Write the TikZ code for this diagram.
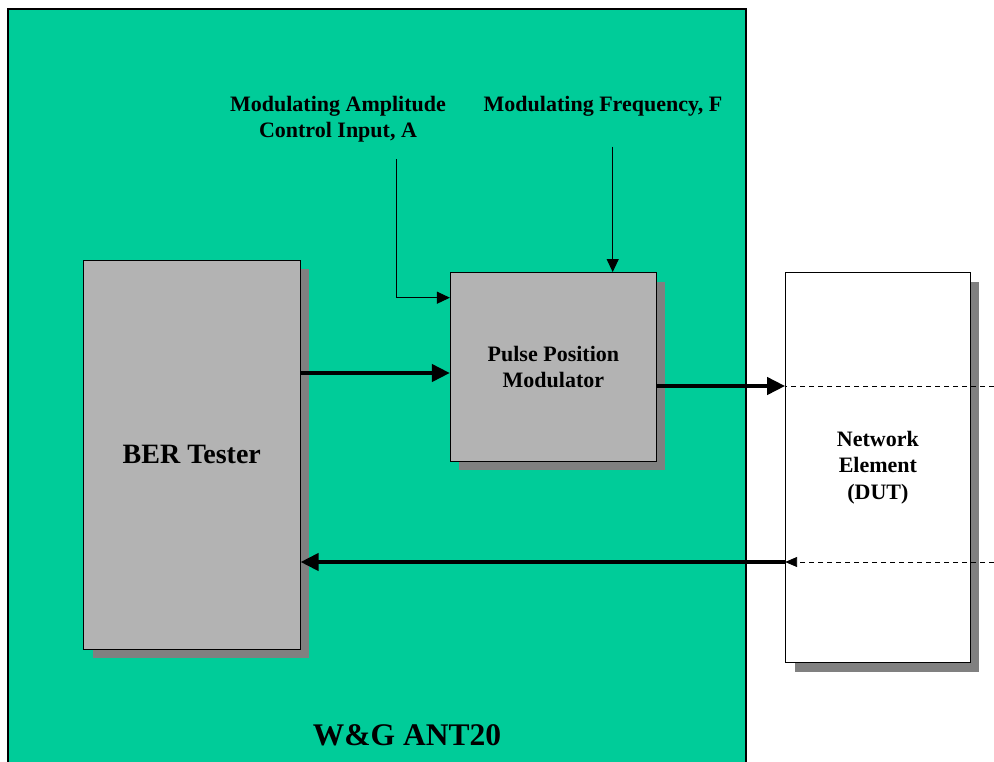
\documentclass[tikz,border=0pt]{standalone}
\usepackage{fontspec}
\setmainfont{Liberation Serif}
\usetikzlibrary{arrows.meta,shadows}
\definecolor{antgreen}{RGB}{0,204,153}
\definecolor{boxgray}{RGB}{179,179,179}
\definecolor{shadowgray}{RGB}{128,128,128}
\tikzset{
  shadowed/.style={drop shadow={shadow xshift=9pt,shadow yshift=-9pt,fill=shadowgray,opacity=1}},
  graybox/.style={draw=black,line width=1pt,fill=boxgray,shadowed,inner sep=0pt,align=center},
  whitebox/.style={draw=black,line width=1pt,fill=white,shadowed,inner sep=0pt,align=center},
  lbl/.style={inner sep=0pt,align=center,font=\fontsize{22}{25.6}\selectfont\bfseries},
  thickarrow/.style={line width=4pt,-{Triangle[length=18pt,width=17pt]}},
  thinarrow/.style={line width=1pt,-{Triangle[length=13pt,width=12pt]}},
  dashline/.style={line width=0.9pt,dash pattern=on 5pt off 4pt}
}
\begin{document}
\begin{tikzpicture}[x=1pt,y=-1pt]
\useasboundingbox (0,0) rectangle (994,761);
\clip (0,0) rectangle (994,761);
% instrument frame
\draw[fill=antgreen,line width=1.5pt] (8,9) rectangle (746,790);
% blocks
\node[graybox,minimum width=216.5pt,minimum height=389pt,font=\fontsize{28}{32}\selectfont\bfseries]
  (ber) at (191.8,454.7) {\raisebox{-3pt}{BER Tester}};
\node[graybox,minimum width=206pt,minimum height=188.5pt,font=\fontsize{22}{26.3}\selectfont\bfseries]
  (ppm) at (553.4,366.8) {Pulse Position\\Modulator};
\node[whitebox,minimum width=184.5pt,minimum height=390pt,font=\fontsize{22}{26.8}\selectfont\bfseries]
  (ne) at (877.9,467.7) {Network\\Element\\(DUT)};
% labels
\node[lbl] (amp) at (338,119.4) {Modulating Amplitude\\Control Input, A};
\node[lbl,anchor=base] (freq) at (603,111.7) {Modulating Frequency, F};
\node[inner sep=0pt,anchor=base,font=\fontsize{31.5}{36}\selectfont\bfseries] (title) at (407,745.5) {W\&G ANT20};
% free ends
\coordinate (ampstart) at (396.7,159);
\coordinate (freqstart) at (612.7,146.7);
\coordinate (outtop) at (994,386);
\coordinate (outbot) at (994,562);
% connectors
\draw[thinarrow] (ampstart) |- (ppm.west |- 0,297.7);
\draw[thinarrow] (freqstart) -- (ppm.north -| freqstart);
\draw[thickarrow] (ber.east |- 0,373) -- (ppm.west |- 0,373);
\draw[thickarrow] (ppm.east |- outtop) -- (ne.west |- outtop);
\draw[dashline] (outtop) -- (ne.west |- outtop);
\draw[dashline,-{Triangle[length=12pt,width=10pt]}] (outbot) -- (ne.west |- outbot);
\draw[thickarrow] (ne.west |- outbot) -- (ber.east |- outbot);
\end{tikzpicture}
\end{document}
